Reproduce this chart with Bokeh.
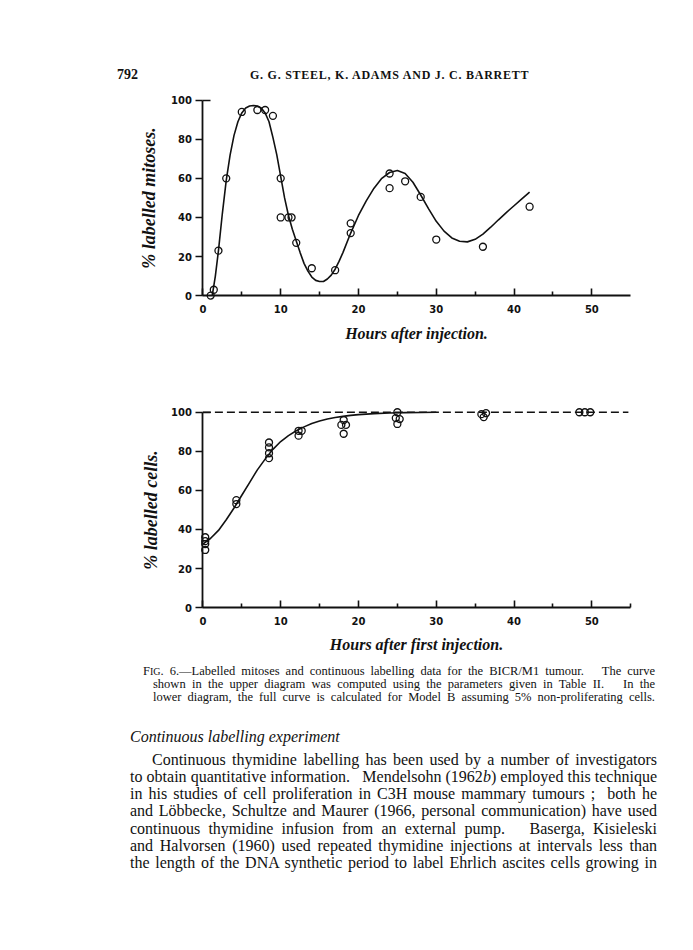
from bokeh.plotting import figure
from bokeh.models import Div, FixedTicker
from bokeh.layouts import column
from bokeh.embed import file_html
from bokeh.resources import INLINE

# ---------------- upper diagram: labelled mitoses ----------------
mit_hours = [1.0, 1.4, 2.0, 3.0, 5.0, 7.0, 8.0, 9.0, 10.0, 10.0, 11.0, 11.4,
             12.0, 14.0, 17.0, 19.0, 19.0, 24.0, 24.0, 26.0, 28.0, 30.0, 36.0, 42.0]
mit_pct = [0, 3, 23, 60, 94, 95, 95, 92, 60, 40, 40, 40,
           27, 14, 13, 37, 32, 62.5, 55, 58.5, 50.5, 28.7, 25, 45.5]

mit_curve_hours = [1.2, 1.6, 2.0, 2.5, 3.0, 3.5, 4.0, 4.5, 5.0, 5.5, 6.0, 6.5, 7.0,
                   7.5, 8.0, 8.5, 9.0, 9.5, 10.0, 10.5, 11.0, 11.5, 12.0, 12.5, 13.0,
                   13.5, 14.0, 14.5, 15.0, 15.5, 16.0, 16.5, 17.0, 17.5, 18.0, 19.0,
                   20.0, 21.0, 22.0, 23.0, 24.0, 25.0, 26.0, 27.0, 28.0, 29.0, 30.0,
                   31.0, 32.0, 33.0, 34.0, 35.0, 36.0, 37.0, 38.0, 39.0, 40.0, 41.0, 42.0]
mit_curve_pct = [0, 10, 23, 42, 59, 72, 82, 89, 93.5, 96, 97, 97.3, 97,
                 96, 93.5, 89, 81, 72, 61, 50, 41, 34, 28, 22, 16.5,
                 12.5, 9.5, 7.8, 7.2, 7.2, 8.5, 10.5, 13.5, 17.5, 22, 32,
                 41, 48.5, 55, 60, 63, 64, 62.5, 58, 51.5, 44.5, 38,
                 33, 29.5, 27.8, 27.5, 28.8, 31.5, 35, 38.8, 42.5, 46, 49.5, 53]

# ---------------- lower diagram: continuous labelling ----------------
cont_hours = [0.3, 0.3, 0.3, 0.3, 4.3, 4.3, 8.5, 8.5, 8.5, 8.5, 12.3, 12.7, 12.3,
              18.1, 17.8, 18.4, 18.1, 25.0, 24.8, 25.3, 25.0, 35.8, 36.4, 36.1,
              48.4, 49.1, 49.8]
cont_pct = [36, 34, 32.5, 29.5, 55, 53, 84.5, 82, 79, 76.5, 90.5, 90.5, 88,
            96, 93.5, 93.5, 89, 100, 97, 96.5, 94, 99, 99.5, 97.5,
            100, 100, 100]

cont_curve_hours = [0, 1, 2, 3, 4, 5, 6, 7, 8, 9, 10, 11, 12, 13, 14, 15, 16, 17,
                    18, 19, 20, 22, 24, 26, 28, 30]
cont_curve_pct = [32.5, 35.5, 39.5, 45, 51, 57.5, 64, 70.5, 76, 81, 85, 88, 90.5,
                  92.5, 94.2, 95.5, 96.5, 97.3, 97.9, 98.4, 98.8, 99.3, 99.6,
                  99.8, 99.9, 100]

plateau_hours = [0, 54.7]
plateau_pct = [100, 100]

x_major = [0, 10, 20, 30, 40, 50]
upper_minor = [5, 15, 25, 35, 45]
lower_minor = [5, 15, 25, 35, 45, 55]
y_major = [0, 20, 40, 60, 80, 100]
y_top_tick = [100]

INK = "#111111"


def panel(height, y_range, minor, xlabel, ylabel, x_title_standoff, y_title_standoff):
    p = figure(width=693, height=height, x_range=(-26.02, 63.07), y_range=y_range,
               output_backend="svg", toolbar_location=None,
               min_border_left=0, min_border_right=0,
               min_border_top=0, min_border_bottom=0,
               background_fill_color="white", border_fill_color="white")
    p.outline_line_color = None
    p.xgrid.visible = False
    p.ygrid.visible = False
    xa = p.xaxis[0]
    ya = p.yaxis[0]
    xa.fixed_location = 0
    ya.fixed_location = 0
    xa.bounds = (0, 55)
    ya.bounds = (0, 100)
    xa.ticker = FixedTicker(ticks=x_major, minor_ticks=minor)
    ya.ticker = FixedTicker(ticks=y_major, minor_ticks=y_top_tick)
    for a in (xa, ya):
        a.axis_line_color = INK
        a.axis_line_width = 1.8
        a.major_tick_line_color = INK
        a.major_tick_line_width = 1.6
        a.minor_tick_line_color = INK
        a.minor_tick_line_width = 1.6
        a.major_label_text_font = "DejaVu Sans"
        a.major_label_text_font_style = "bold"
        a.major_label_text_font_size = "10px"
        a.major_label_text_color = INK
        a.axis_label_text_font = "Liberation Serif"
        a.axis_label_text_font_style = "bold italic"
        a.axis_label_text_color = INK
    xa.major_tick_in = 7
    xa.major_tick_out = 0
    xa.minor_tick_in = 4
    xa.minor_tick_out = 0
    xa.major_label_standoff = 9
    ya.major_tick_in = 0
    ya.major_tick_out = 7
    ya.minor_tick_in = 8
    ya.minor_tick_out = 0
    ya.major_label_standoff = 4
    xa.axis_label = xlabel
    xa.axis_label_text_font_size = "16px"
    xa.axis_label_standoff = x_title_standoff
    ya.axis_label = ylabel
    ya.axis_label_text_font_size = "18px"
    ya.axis_label_standoff = y_title_standoff
    return p


p1 = panel(262, (-28.1, 106.0), upper_minor, "Hours after injection.",
           "% labelled mitoses.", 9, 9)
p1.line(mit_curve_hours, mit_curve_pct, line_color=INK, line_width=1.6)
p1.scatter(mit_hours, mit_pct, marker="circle", size=7, fill_color=None,
           line_color=INK, line_width=1.3)

p2 = panel(312, (-28.1, 131.6), lower_minor, "Hours after first injection.",
           "% labelled cells.", 8, 7)
p2.line(plateau_hours, plateau_pct, line_color=INK, line_width=1.4, line_dash="8 4")
p2.line(cont_curve_hours, cont_curve_pct, line_color=INK, line_width=1.6)
p2.scatter(cont_hours, cont_pct, marker="circle", size=7, fill_color=None,
           line_color=INK, line_width=1.3)

header_html = """
<div style="position:relative;width:693px;height:88px;font-family:'Liberation Serif',serif;color:#111;">
<div style="position:absolute;left:117px;top:67px;font-size:14px;line-height:16px;font-weight:bold;">792</div>
<div style="position:absolute;left:250px;top:68px;font-size:12px;line-height:14px;font-weight:bold;letter-spacing:0.75px;white-space:nowrap;">G. G. STEEL, K. ADAMS AND J. C. BARRETT</div>
</div>
"""

caption_lines = [
    "F<span style='font-size:10px'>IG</span>. 6.&mdash;Labelled mitoses and continuous labelling data for the BICR/M1 tumour.&nbsp;&nbsp; The curve",
    "shown in the upper diagram was computed using the parameters given in Table II.&nbsp;&nbsp; In the",
    "lower diagram, the full curve is calculated for Model B assuming 5% non-proliferating cells.",
]
body_lines = [
    "Continuous thymidine labelling has been used by a number of investigators",
    "to obtain quantitative information.&nbsp;&nbsp; Mendelsohn (1962<i>b</i>) employed this technique",
    "in his studies of cell proliferation in C3H mouse mammary tumours ;&nbsp; both he",
    "and L&ouml;bbecke, Schultze and Maurer (1966, personal communication) have used",
    "continuous thymidine infusion from an external pump.&nbsp;&nbsp; Baserga, Kisieleski",
    "and Halvorsen (1960) used repeated thymidine injections at intervals less than",
    "the length of the DNA synthetic period to label Ehrlich ascites cells growing in",
]

parts = ["<div style=\"position:relative;width:693px;height:288px;font-family:'Liberation Serif',serif;color:#111;\">"]
cap_tops = [2.5, 15.5, 28.5]
cap_left = [143, 153, 153]
for line, t, l in zip(caption_lines, cap_tops, cap_left):
    parts.append(
        f"<div style='position:absolute;left:{l}px;top:{t}px;width:{655 - l}px;font-size:12.5px;line-height:13px;"
        f"text-align:justify;text-align-last:justify;'>{line}</div>")
parts.append("<div style='position:absolute;left:130px;top:66px;font-size:16px;line-height:18px;font-style:italic;white-space:nowrap;'>Continuous labelling experiment</div>")
for i, line in enumerate(body_lines):
    t = 89 + 17.15 * i
    l = 152 if i == 0 else 130
    parts.append(
        f"<div style='position:absolute;left:{l}px;top:{t:.1f}px;width:{657 - l}px;font-size:16px;line-height:17px;"
        f"text-align:justify;text-align-last:justify;'>{line}</div>")
parts.append("</div>")

header = Div(text=header_html, width=693, height=88, margin=0)
textblock = Div(text="".join(parts), width=693, height=288, margin=0)

layout = column(header, p1, p2, textblock, spacing=0)
open("out.html", "w").write(file_html(layout, INLINE))
